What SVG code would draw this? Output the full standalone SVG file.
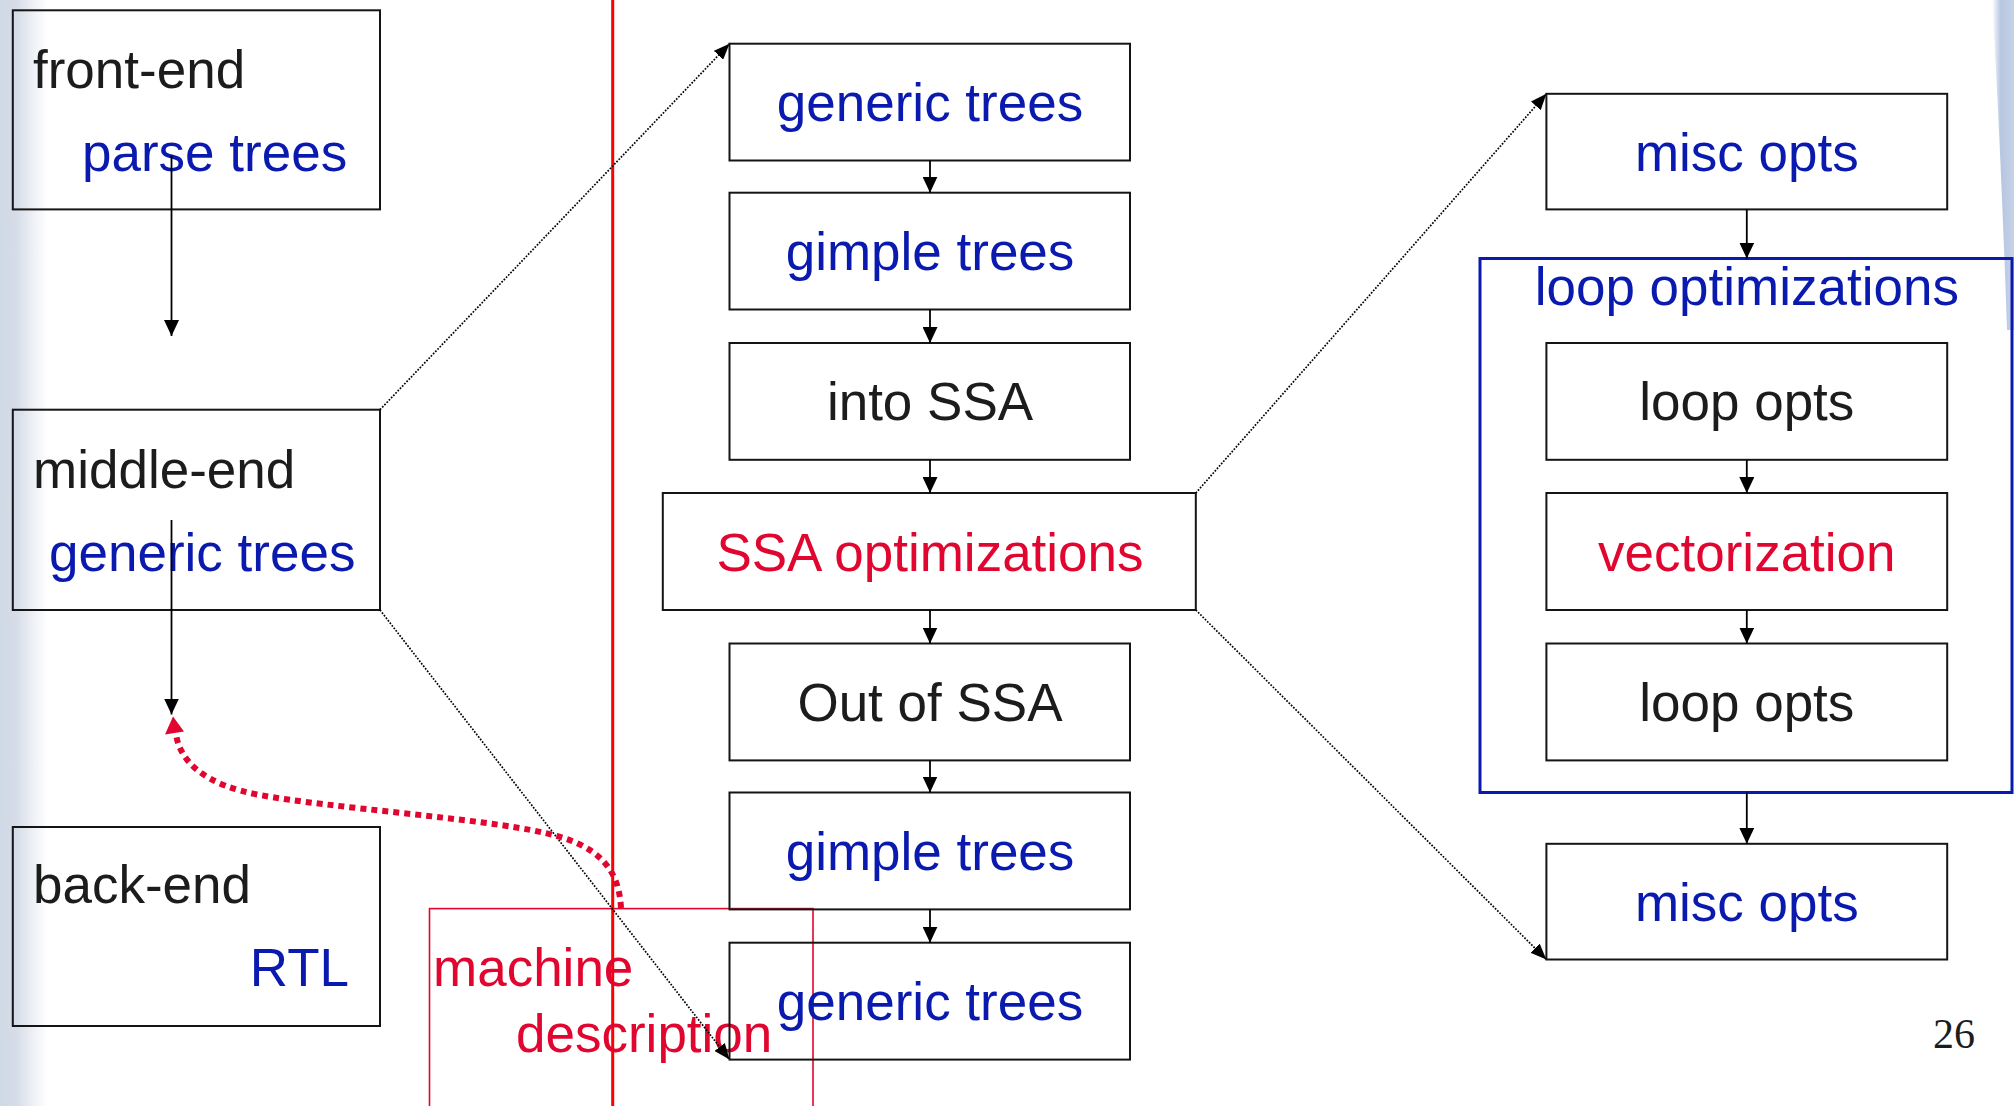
<svg xmlns="http://www.w3.org/2000/svg" width="2014" height="1106" viewBox="0 0 2014 1106">
  <style>
    .box { fill: none; stroke: #151515; stroke-width: 2; }
    .t { font-family: "Liberation Sans", Arial, Helvetica, sans-serif; font-size: 53px; }
    .c { text-anchor: middle; }
    .blk { fill: #1c1c1c; }
    .blu { fill: #0a1aaf; }
    .red { fill: #e0062f; }
    .arr { stroke: #000; stroke-width: 1.8; fill: none; marker-end: url(#ah); }
    .dot { stroke: #000; stroke-width: 1.7; stroke-dasharray: 1.7 1.5; fill: none; marker-end: url(#dh); }
  </style>
  <defs>
    <marker id="ah" viewBox="0 0 16 15" refX="16" refY="7.5" markerWidth="16" markerHeight="15" markerUnits="userSpaceOnUse" orient="auto">
      <path d="M0,0 L16,7.5 L0,15 z" fill="#000"/>
    </marker>
    <marker id="dh" viewBox="0 0 16 13" refX="16" refY="6.5" markerWidth="16" markerHeight="13" markerUnits="userSpaceOnUse" orient="auto">
      <path d="M0,0 L16,6.5 L0,13 z" fill="#000"/>
    </marker>
    <linearGradient id="lg" x1="0" y1="0" x2="1" y2="0">
      <stop offset="0" stop-color="#cfd8e5"/>
      <stop offset="0.35" stop-color="#d6dde8"/>
      <stop offset="0.7" stop-color="#eef1f6"/>
      <stop offset="1" stop-color="#ffffff"/>
    </linearGradient>
    <linearGradient id="rg" x1="0" y1="0" x2="1" y2="0">
      <stop offset="0" stop-color="#ffffff"/>
      <stop offset="0.4" stop-color="#b5c6e0"/>
      <stop offset="1" stop-color="#c6d3e7"/>
    </linearGradient>
  </defs>

  <rect x="0" y="0" width="2014" height="1106" fill="#ffffff"/>
  <g id="background">
    <rect x="0" y="0" width="48" height="1106" fill="url(#lg)"/>
    <path d="M1992,0 L2014,0 L2014,330 L2007,330 C2003,210 1998,100 1992,0 Z" fill="url(#rg)"/>
  </g>

  <g id="page-number">
    <text x="1933" y="1048" font-family="'Liberation Serif', 'Times New Roman', serif" font-size="42" fill="#1c1c1c">26</text>
  </g>

  <g id="divider">
    <line x1="612.7" y1="0" x2="612.7" y2="1106" stroke="#ff0000" stroke-width="3"/>
  </g>

  <g id="front-end">
    <rect class="box" x="12.8" y="10.3" width="367.2" height="199.1"/>
    <text class="t blk" x="33" y="88">front-end</text>
    <text class="t blu" x="82" y="171">parse trees</text>
  </g>
  <g id="middle-end">
    <rect class="box" x="12.8" y="409.7" width="367.2" height="200.3"/>
    <text class="t blk" x="33" y="488">middle-end</text>
    <text class="t blu" x="49" y="571">generic trees</text>
  </g>
  <g id="back-end">
    <rect class="box" x="12.8" y="827" width="367.2" height="199"/>
    <text class="t blk" x="33" y="903">back-end</text>
    <text class="t blu" x="349" y="985.5" text-anchor="end">RTL</text>
  </g>
  <g id="machine-description">
    <rect x="429.5" y="908.6" width="383.5" height="210" fill="none" stroke="#e0062f" stroke-width="1.6"/>
    <text class="t red" x="433" y="985.5">machine</text>
    <text class="t red" x="516" y="1052">description</text>
  </g>

  <g id="m1"><rect class="box" x="729.5" y="43.7" width="400.5" height="116.8"/><text class="t c blu" x="930" y="121">generic trees</text></g>
  <g id="m2"><rect class="box" x="729.5" y="192.7" width="400.5" height="116.8"/><text class="t c blu" x="930" y="270">gimple trees</text></g>
  <g id="m3"><rect class="box" x="729.5" y="343" width="400.5" height="116.8"/><text class="t c blk" x="930" y="420.4">into SSA</text></g>
  <g id="m4"><rect class="box" x="662.8" y="493" width="533" height="117"/><text class="t c red" x="930" y="570.5" font-size="51">SSA optimizations</text></g>
  <g id="m5"><rect class="box" x="729.5" y="643.5" width="400.5" height="116.9"/><text class="t c blk" x="930" y="721">Out of SSA</text></g>
  <g id="m6"><rect class="box" x="729.5" y="792.5" width="400.5" height="116.9"/><text class="t c blu" x="930" y="870">gimple trees</text></g>
  <g id="m7"><rect class="box" x="729.5" y="942.7" width="400.5" height="116.9"/><text class="t c blu" x="930" y="1020">generic trees</text></g>

  <g id="r1"><rect class="box" x="1546.4" y="93.8" width="400.8" height="115.6"/><text class="t c blu" x="1746.8" y="170.6">misc opts</text></g>
  <g id="loop-optimizations">
    <rect x="1480" y="258.5" width="532" height="534" fill="none" stroke="#0a1aaf" stroke-width="3"/>
    <text class="t c blu" x="1746.8" y="305" font-size="52">loop optimizations</text>
  </g>
  <g id="r2"><rect class="box" x="1546.4" y="343" width="400.8" height="116.8"/><text class="t c blk" x="1746.8" y="420.4">loop opts</text></g>
  <g id="r3"><rect class="box" x="1546.4" y="493" width="400.8" height="117"/><text class="t c red" x="1746.8" y="570.5">vectorization</text></g>
  <g id="r4"><rect class="box" x="1546.4" y="643.5" width="400.8" height="116.9"/><text class="t c blk" x="1746.8" y="721">loop opts</text></g>
  <g id="r5"><rect class="box" x="1546.4" y="843.8" width="400.8" height="115.7"/><text class="t c blu" x="1746.8" y="920.6">misc opts</text></g>

  <g id="connectors">
    <line class="arr" x1="171.5" y1="155.6" x2="171.5" y2="336"/>
    <line class="arr" x1="171.5" y1="520" x2="171.5" y2="714.5"/>

    <line class="arr" x1="930" y1="160.5" x2="930" y2="192.7"/>
    <line class="arr" x1="930" y1="309.5" x2="930" y2="343"/>
    <line class="arr" x1="930" y1="459.8" x2="930" y2="493"/>
    <line class="arr" x1="930" y1="610" x2="930" y2="643.5"/>
    <line class="arr" x1="930" y1="760.4" x2="930" y2="792.5"/>
    <line class="arr" x1="930" y1="909.4" x2="930" y2="942.7"/>

    <line class="arr" x1="1746.8" y1="209.4" x2="1746.8" y2="258.5"/>
    <line class="arr" x1="1746.8" y1="459.8" x2="1746.8" y2="493"/>
    <line class="arr" x1="1746.8" y1="610" x2="1746.8" y2="643.5"/>
    <line class="arr" x1="1746.8" y1="792.5" x2="1746.8" y2="843.8"/>

    <line class="dot" x1="380" y1="409.7" x2="729.5" y2="43.7"/>
    <line class="dot" x1="380" y1="610" x2="729.5" y2="1059.6"/>
    <line class="dot" x1="1195.8" y1="493" x2="1546.4" y2="93.8"/>
    <line class="dot" x1="1195.8" y1="610" x2="1546.4" y2="959.5"/>

    <path d="M621,908 C619,870 600,845 545,833 C480,818 330,808 260,795 C205,785 180,762 176,734" fill="none" stroke="#e0062f" stroke-width="6" stroke-dasharray="6 5"/>
    <polygon points="173,716.5 165,734.5 184,731.5" fill="#e0062f"/>
  </g>
</svg>
